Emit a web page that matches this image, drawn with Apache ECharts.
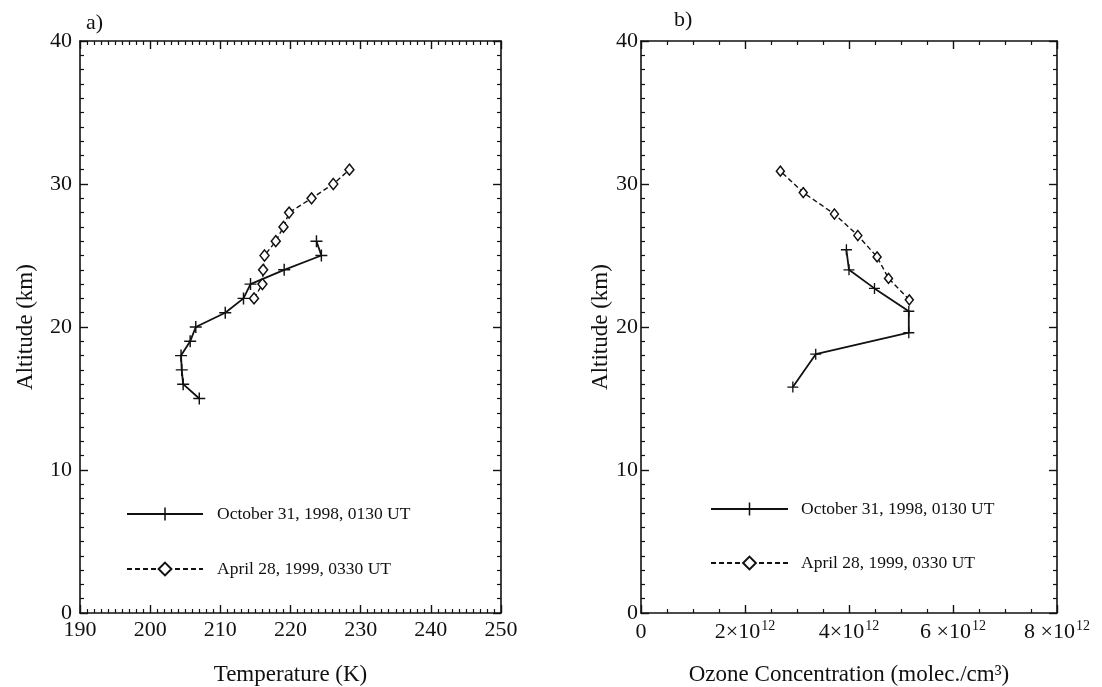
<!DOCTYPE html>
<html>
<head>
<meta charset="utf-8">
<script src="https://cdn.jsdelivr.net/npm/echarts@6/dist/echarts.min.js"></script>
<style>
html,body{margin:0;padding:0;background:#fff;}
#chart{width:1102px;height:687px;}
</style>
</head>
<body>
<div id="chart"></div>
<script>
// ---- Data ----
var seriesNames = ['October 31, 1998, 0130 UT', 'April 28, 1999, 0330 UT'];

// Panel a) Temperature profiles
var tempOct = [207.0, 204.7, 204.5, 204.4, 205.7, 206.5, 210.7, 213.3, 214.3, 219.1, 224.4, 223.7];
var altTempOct = [15, 16, 17, 18, 19, 20, 21, 22, 23, 24, 25, 26];
var tempApr = [214.8, 216.0, 216.1, 216.3, 217.9, 219.0, 219.8, 223.0, 226.1, 228.4];
var altTempApr = [22, 23, 24, 25, 26, 27, 28, 29, 30, 31];

// Panel b) Ozone concentration profiles (molec./cm^3)
var ozoneOct = [2.92e12, 3.36e12, 5.15e12, 5.15e12, 4.49e12, 4.0e12, 3.95e12];
var altOzoneOct = [15.8, 18.1, 19.6, 21.1, 22.7, 24.0, 25.4];
var ozoneApr = [5.16e12, 4.76e12, 4.54e12, 4.17e12, 3.72e12, 3.12e12, 2.68e12];
var altOzoneApr = [21.9, 23.4, 24.9, 26.4, 27.9, 29.4, 30.9];

// Axis tick labels
var tempTicks = [190, 200, 210, 220, 230, 240, 250];
var altTicks = [0, 10, 20, 30, 40];
var ozoneTickLabels = {0: '0', 2: '2×10', 4: '4×10', 6: '6 ×10', 8: '8 ×10'};

function pairs(xs, ys) { return xs.map(function (x, i) { return [x, ys[i]]; }); }

var FONT = "'Liberation Serif', 'DejaVu Serif', serif";
var INK = '#111';
var TICK_FS = 22;
var TITLE_FS = 23;
var plusPath = 'path://M-1.2,-10H1.2V-1.2H10V1.2H1.2V10H-1.2V1.2H-10V-1.2H-1.2Z';

var chart = echarts.init(document.getElementById('chart'));

function frameAxis(gridIndex, position, min, max, interval, minorSplit, showLabel, extra) {
  var a = {
    type: 'value', gridIndex: gridIndex, position: position,
    min: min, max: max, interval: interval,
    axisLine: { show: true, onZero: false, lineStyle: { color: INK, width: 1.6 } },
    axisTick: { show: true, inside: true, length: 8, lineStyle: { color: INK, width: 1.4 } },
    minorTick: { show: true, splitNumber: minorSplit, length: 4, lineStyle: { color: INK, width: 1.2 } },
    splitLine: { show: false },
    axisLabel: { show: showLabel, color: INK, fontFamily: FONT, fontSize: TICK_FS }
  };
  if (extra) { for (var k in extra) a[k] = extra[k]; }
  return a;
}

var option = {
  backgroundColor: '#fff',
  animation: false,
  textStyle: { fontFamily: FONT, color: INK },
  grid: [
    { left: 80, top: 41, width: 421, height: 572, containLabel: false, outerBoundsMode: 'none' },
    { left: 641, top: 41, width: 416, height: 572, containLabel: false, outerBoundsMode: 'none' }
  ],
  xAxis: [
    frameAxis(0, 'bottom', 190, 250, 10, 10, true, {
      name: 'Temperature (K)', nameLocation: 'middle', nameGap: 50,
      nameTextStyle: { fontFamily: FONT, fontSize: TITLE_FS, color: INK },
      axisLabel: { show: true, color: INK, fontFamily: FONT, fontSize: TICK_FS, margin: 6 }
    }),
    frameAxis(0, 'top', 190, 250, 10, 10, false),
    frameAxis(1, 'bottom', 0, 8e12, 2e12, 4, true, {
      name: 'Ozone Concentration (molec./cm³)', nameLocation: 'middle', nameGap: 50,
      nameTextStyle: { fontFamily: FONT, fontSize: TITLE_FS, color: INK },
      axisLabel: {
        show: true, color: INK, fontFamily: FONT, fontSize: TICK_FS, margin: 6,
        formatter: function (v) {
          var k = Math.round(v / 1e12);
          if (k === 0) return '{b|0}';
          return '{b|' + ozoneTickLabels[k] + '}{s|12}';
        },
        rich: {
          b: { fontFamily: FONT, fontSize: TICK_FS, color: INK, lineHeight: 24, verticalAlign: 'bottom' },
          s: { fontFamily: FONT, fontSize: 14, color: INK, lineHeight: 24, verticalAlign: 'top', padding: [0, 0, 0, 1] }
        }
      }
    }),
    frameAxis(1, 'top', 0, 8e12, 2e12, 4, false)
  ],
  yAxis: [
    frameAxis(0, 'left', 0, 40, 10, 10, true, {
      name: 'Altitude (km)', nameLocation: 'middle', nameGap: 43, nameRotate: 90,
      nameTextStyle: { fontFamily: FONT, fontSize: TITLE_FS, color: INK },
      axisLabel: { show: true, color: INK, fontFamily: FONT, fontSize: TICK_FS, margin: 8 }
    }),
    frameAxis(0, 'right', 0, 40, 10, 10, false),
    frameAxis(1, 'left', 0, 40, 10, 10, true, {
      name: 'Altitude (km)', nameLocation: 'middle', nameGap: 22, nameRotate: 90,
      nameTextStyle: { fontFamily: FONT, fontSize: TITLE_FS, color: INK },
      axisLabel: { show: true, color: INK, fontFamily: FONT, fontSize: TICK_FS, margin: 3 }
    }),
    frameAxis(1, 'right', 0, 40, 10, 10, false)
  ],
  legend: [
    {
      orient: 'vertical', left: 126, top: 505, itemGap: 37, padding: 0,
      itemWidth: 76, itemHeight: 16,
      data: seriesNames,
      textStyle: { fontFamily: FONT, fontSize: 17.5, color: INK, padding: [0, 0, 0, 9] },
      selectedMode: false
    },
    {
      orient: 'vertical', left: 710, top: 500, itemGap: 36, padding: 0,
      itemWidth: 77, itemHeight: 16,
      data: seriesNames,
      textStyle: { fontFamily: FONT, fontSize: 17.5, color: INK, padding: [0, 0, 0, 8] },
      selectedMode: false
    }
  ],
  graphic: [
    { type: 'text', left: 86, top: 12, style: { text: 'a)', font: '22px ' + FONT, fill: INK } },
    { type: 'text', left: 674, top: 9, style: { text: 'b)', font: '22px ' + FONT, fill: INK } }
  ],
  series: [
    {
      name: seriesNames[0], type: 'line', xAxisIndex: 0, yAxisIndex: 0,
      data: pairs(tempOct, altTempOct),
      symbol: plusPath, symbolSize: 12, showAllSymbol: true,
      lineStyle: { color: INK, width: 1.8, type: 'solid' },
      itemStyle: { color: INK }
    },
    {
      name: seriesNames[1], type: 'line', xAxisIndex: 0, yAxisIndex: 0,
      data: pairs(tempApr, altTempApr),
      symbol: 'diamond', symbolSize: [9, 11], showAllSymbol: true,
      lineStyle: { color: INK, width: 1.4, type: [5, 3] },
      itemStyle: { color: '#fff', borderColor: INK, borderWidth: 1.5 }
    },
    {
      name: seriesNames[0], type: 'line', xAxisIndex: 2, yAxisIndex: 2,
      data: pairs(ozoneOct, altOzoneOct),
      symbol: plusPath, symbolSize: 11, showAllSymbol: true,
      lineStyle: { color: INK, width: 1.8, type: 'solid' },
      itemStyle: { color: INK }
    },
    {
      name: seriesNames[1], type: 'line', xAxisIndex: 2, yAxisIndex: 2,
      data: pairs(ozoneApr, altOzoneApr),
      symbol: 'diamond', symbolSize: [8, 10], showAllSymbol: true,
      lineStyle: { color: INK, width: 1.4, type: [5, 3] },
      itemStyle: { color: '#fff', borderColor: INK, borderWidth: 1.5 }
    }
  ]
};
chart.setOption(option);
</script>
</body>
</html>
